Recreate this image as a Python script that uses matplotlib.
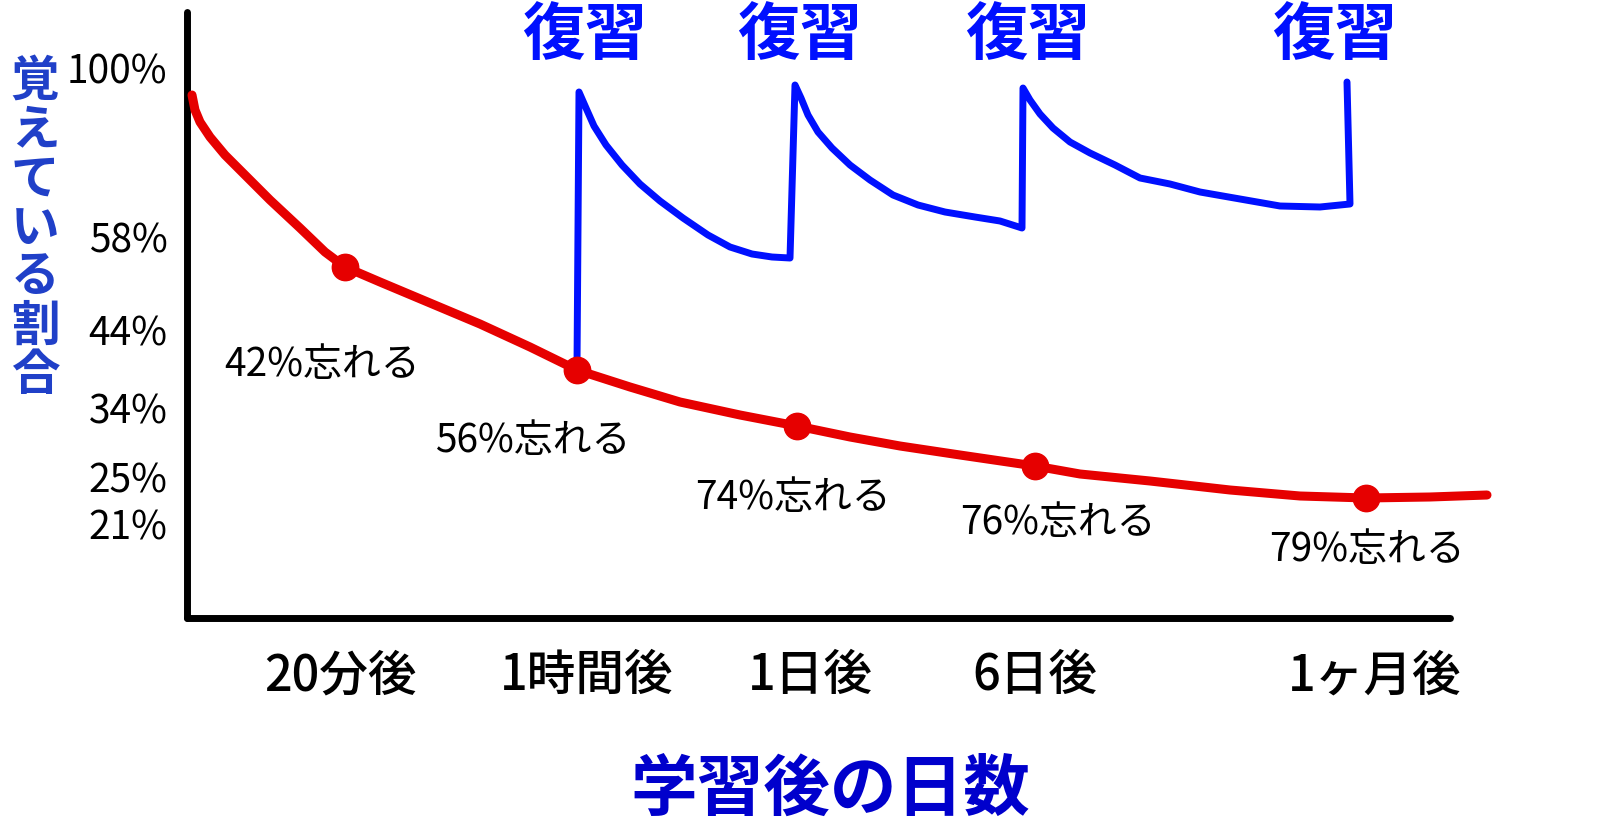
import matplotlib
matplotlib.use("Agg")
import matplotlib.pyplot as plt

plt.rcParams['font.family'] = ['Noto Sans CJK JP', 'DejaVu Sans']

# units: pixels right of the y axis / above the x axis (hand-drawn chart)
red_x = [5, 8, 13, 23, 38, 58, 83, 113, 138, 158, 193, 243, 293, 343, 390,
         443, 493, 553, 610, 663, 713, 773, 848, 893, 963, 1043, 1113, 1179, 1243, 1300]
red_y = [523, 508, 496, 481, 463, 443, 418, 390, 366, 351, 336, 315, 294, 271, 248,
         231, 216, 203, 192, 181, 172, 163, 152, 144, 137, 128, 122, 120, 121, 123]

mark_x = [158, 390, 610, 848, 1179]
mark_y = [351, 248, 192, 152, 120]

blue_x = [390, 392, 399, 407, 419, 435, 453, 473, 496, 521, 543, 565, 585, 603,
          608, 614, 621, 631, 645, 663, 683, 706, 731, 758, 788, 813, 835,
          836, 843, 853, 866, 883, 903, 928, 953, 983, 1013, 1053, 1093, 1133, 1163,
          1160]
blue_y = [253, 526, 510, 492, 473, 453, 434, 417, 400, 383, 371, 364, 361, 360,
          533, 520, 503, 486, 470, 453, 438, 423, 413, 406, 401, 397, 390,
          530, 518, 504, 490, 476, 465, 453, 440, 434, 426, 419, 412, 411, 414,
          536]

review_x = [398, 613, 841, 1148]
review_label = '復習'

forget_labels = ['42%忘れる', '56%忘れる', '74%忘れる', '76%忘れる', '79%忘れる']
forget_x = [135, 346, 606, 871, 1180]
forget_y = [253, 177, 120, 95, 68]

ytick_pos = [550, 381, 288, 210, 141, 94]
ytick_labels = ['100%', '58%', '44%', '34%', '25%', '21%']

xtick_pos = [153, 400, 623, 848, 1188]
xtick_labels = ['20分後', '1時間後', '1日後', '6日後', '1ヶ月後']

fig = plt.figure(figsize=(16, 8.38), dpi=100)
ax = fig.add_axes([187 / 1600, 220 / 838, 1263 / 1600, 606 / 838])
ax.set_xlim(0, 1263)
ax.set_ylim(0, 606)

for s in ['top', 'right']:
    ax.spines[s].set_visible(False)
for s in ['left', 'bottom']:
    ax.spines[s].set_linewidth(5)
    ax.spines[s].set_color('black')
    ax.spines[s].set_capstyle('round')

ax.plot(red_x, red_y, color='#e60000', lw=6.5, solid_capstyle='round',
        solid_joinstyle='round', clip_on=False, zorder=3)
ax.plot(mark_x, mark_y, 'o', color='#e60000', ms=19, clip_on=False, zorder=4)
ax.plot(blue_x, blue_y, color='#0010ff', lw=5, solid_capstyle='round',
        solid_joinstyle='round', clip_on=False, zorder=3)

for x in review_x:
    ax.text(x, 583, review_label, color='#0010ff', fontsize=45, fontweight='bold',
            ha='center', va='center')

for t, x, y in zip(forget_labels, forget_x, forget_y):
    ax.text(x, y, t, fontsize=28, ha='center', va='center', color='black')

ax.set_yticks(ytick_pos)
ax.set_yticklabels(ytick_labels, fontsize=28)
ax.set_xticks(xtick_pos)
ax.set_xticklabels(xtick_labels, fontsize=35, fontweight='medium')
ax.tick_params(axis='y', length=0, pad=14)
ax.tick_params(axis='x', length=0, pad=24)

fig.text(830 / 1600, 1 - 790 / 838, '学習後の日数', color='#0000cc', fontsize=48,
         fontweight='bold', ha='center', va='center')
fig.text(35 / 1600, 1 - 228 / 838, '\n'.join('覚えている割合'), color='#2040c8',
         fontsize=35, fontweight='bold', ha='center', va='center', linespacing=1.0)

fig.savefig('out.png', dpi=100)
